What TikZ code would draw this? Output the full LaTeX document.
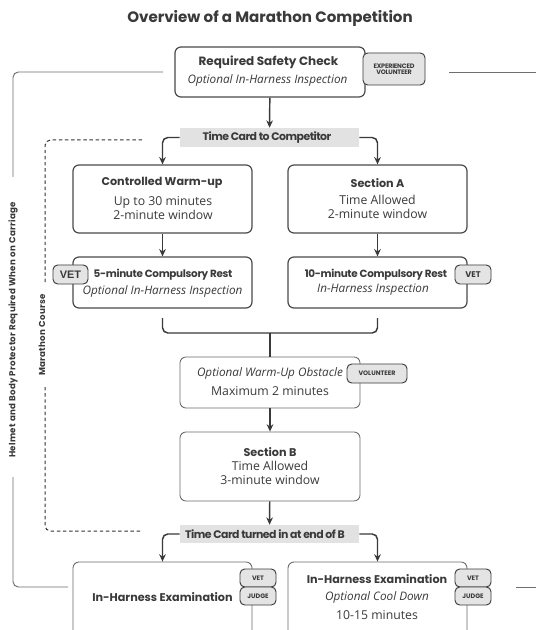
\documentclass[tikz,border=0pt]{standalone}
\usepackage{fontspec}
\setmainfont{Open Sans}
\newfontfamily\hd{Poppins}
\newfontfamily\tight{Poppins}[LetterSpace=-5.0]
\newfontfamily\sidef{Poppins}[LetterSpace=3.0]
\newfontfamily\condf{Poppins}[LetterSpace=-3.0]
\newfontfamily\arl{Liberation Sans}
\usetikzlibrary{arrows.meta}
\definecolor{ink}{HTML}{3A3A3A}
\definecolor{boxc}{HTML}{4A4A4A}
\definecolor{lboxc}{HTML}{6A6A6A}
\definecolor{bandc}{HTML}{E2E2E2}
\definecolor{badgec}{HTML}{E4E4E4}
\definecolor{sidec}{HTML}{6E6E6E}
\def\pxu{0.75pt}
\tikzset{
  mainbox/.style={draw=boxc, line width=0.9pt, rounded corners=4.5pt, inner sep=0pt, fill=white},
  lightbox/.style={draw=lboxc, line width=0.65pt, rounded corners=4.5pt, inner sep=0pt, fill=white},
  badge/.style={draw=ink, line width=0.7pt, fill=badgec, rounded corners=3.5pt, inner sep=0pt, text=ink, align=center},
  bandbox/.style={fill=bandc, inner sep=0pt, text=ink, font=\tight\bfseries\fontsize{8.2}{9}\selectfont},
  arr/.style={draw=ink, line width=1.1pt, -{Stealth[length=5.5pt,width=5pt]}, rounded corners=4pt},
  conn/.style={draw=ink, line width=1.1pt, rounded corners=4pt},
  sideln/.style={draw=sidec, line width=0.7pt, rounded corners=4pt},
  dashln/.style={draw=ink!90!black, line width=0.75pt, dash pattern=on 2.6pt off 2pt, rounded corners=4pt},
  head/.style={text=ink, inner sep=0pt, font=\hd\bfseries\fontsize{8.4}{10}\selectfont},
  headsm/.style={text=ink, inner sep=0pt, font=\condf\bfseries\fontsize{7.8}{10}\selectfont},
  body/.style={text=ink, inner sep=0pt, font=\fontsize{9.2}{10}\selectfont},
  ital/.style={text=ink, inner sep=0pt, font=\itshape\fontsize{8.8}{10}\selectfont},
  sidetext/.style={text=ink, inner sep=0pt, rotate=90, font=\sidef\bfseries\fontsize{6.5}{7}\selectfont},
  smallbadge/.style={font=\hd\bfseries\fontsize{4.8}{5.4}\selectfont},
}
\begin{document}
\begin{tikzpicture}[x=0.75pt,y=-0.75pt]
\clip (0,0) rectangle (536,630);
\fill[white] (0,0) rectangle (536,630);

% title
\node[text=ink, inner sep=0pt, font=\hd\bfseries\fontsize{11.3}{13}\selectfont] (title) at (270,18) {Overview of a Marathon Competition};

% side brackets
\coordinate (hl1) at (163,72);
\coordinate (hl2) at (13,177);
\coordinate (hl3) at (13,477);
\coordinate (hl4) at (68,587);
\coordinate (hr1) at (449,72);
\coordinate (hr2) at (536,72);
\coordinate (hr3) at (516,587);
\coordinate (hr4) at (536,587);
\draw[sideln] (hl1) -| (hl2);
\draw[sideln] (hl3) |- (hl4);
\draw[sideln] (hr1) -- (hr2);
\draw[sideln] (hr3) -- (hr4);
\node[sidetext] (helmet) at (13,330) {Helmet and Body Protector Required When on Carriage};

\coordinate (dl1) at (142,140);
\coordinate (dl2) at (45,283);
\coordinate (dl3) at (45,387);
\coordinate (dl4) at (142,531);
\draw[dashln] (dl1) -| (dl2);
\draw[dashln] (dl3) |- (dl4);
\node[sidetext] (course) at (42,335) {Marathon Course};

% boxes
\node[mainbox, minimum width=190*\pxu, minimum height=50*\pxu] (safety) at (270,72) {};
\node[mainbox, minimum width=179*\pxu, minimum height=68*\pxu] (warm) at (162.5,199) {};
\node[mainbox, minimum width=179*\pxu, minimum height=68*\pxu] (secA) at (377.5,199) {};
\node[mainbox, minimum width=179*\pxu, minimum height=51*\pxu] (rest5) at (162.5,282.5) {};
\node[mainbox, minimum width=179*\pxu, minimum height=51*\pxu] (rest10) at (377.5,282.5) {};
\node[lightbox, minimum width=180*\pxu, minimum height=51*\pxu] (obst) at (270,382.5) {};
\node[lightbox, minimum width=180*\pxu, minimum height=69*\pxu] (secB) at (270,466.5) {};
\node[lightbox, minimum width=179*\pxu, minimum height=100*\pxu] (exam1) at (162.5,612) {};
\node[lightbox, minimum width=179*\pxu, minimum height=100*\pxu] (exam2) at (377.5,612) {};

% bands
\node[bandbox, minimum width=179*\pxu, minimum height=19*\pxu] (band1) at (269.5,137.5) {};
\node[bandbox] (band1t) at (267,137.5) {Time Card to Competitor};
\node[bandbox, minimum width=179*\pxu, minimum height=18*\pxu] (band2) at (269.5,534) {};
\node[bandbox] (band2t) at (265,534) {Time Card turned in at end of B};

% texts
\node[head, font=\hd\bfseries\fontsize{9}{10}\selectfont] (safetyh) at (268.5,62) {Required Safety Check};
\node[ital] (safetyi) at (267.5,80) {Optional In-Harness Inspection};
\node[head] (warmh) at (162,183) {Controlled Warm-up};
\node[body] (warm1) at (163,202) {Up to 30 minutes};
\node[body] (warm2) at (163,215) {2-minute window};
\node[head] (secAh) at (377.5,183) {Section A};
\node[body] (secA1) at (377.5,200) {Time Allowed};
\node[body] (secA2) at (377.5,214) {2-minute window};
\node[headsm] (rest5h) at (163,275) {5-minute Compulsory Rest};
\node[ital] (rest5i) at (162.5,291) {Optional In-Harness Inspection};
\node[headsm] (rest10h) at (376,275) {10-minute Compulsory Rest};
\node[ital] (rest10i) at (373,290) {In-Harness Inspection};
\node[ital] (obsti) at (270,373) {Optional Warm-Up Obstacle};
\node[body] (obstb) at (270,391) {Maximum 2 minutes};
\node[head] (secBh) at (270,452) {Section B};
\node[body] (secB1) at (270,466) {Time Allowed};
\node[body] (secB2) at (270,480) {3-minute window};
\node[head] (exam1h) at (162.5,597) {In-Harness Examination};
\node[head] (exam2h) at (377,579) {In-Harness Examination};
\node[ital] (exam2i) at (377,597) {Optional Cool Down};
\node[body] (exam2b) at (377,615) {10-15 minutes};

% badges
\node[badge, font=\condf\bfseries\fontsize{4.8}{5.2}\selectfont, minimum width=62*\pxu, minimum height=32*\pxu] (expvol) at (394,69) {EXPERIENCED\\[-0.5pt]VOLUNTEER};
\node[badge, font=\arl\bfseries\fontsize{8.2}{9}\selectfont, minimum width=35*\pxu, minimum height=19*\pxu] (vet1) at (70.5,274.5) {VET};
\node[badge, font=\hd\bfseries\fontsize{6.2}{7}\selectfont, minimum width=36*\pxu, minimum height=19*\pxu] (vet2) at (473,274.5) {VET};
\node[badge, smallbadge, minimum width=60*\pxu, minimum height=19*\pxu] (vol) at (377,373.5) {VOLUNTEER};
\node[badge, smallbadge, minimum width=36*\pxu, minimum height=18*\pxu] (vet3) at (258,578) {VET};
\node[badge, smallbadge, minimum width=36*\pxu, minimum height=18*\pxu] (judge3) at (258,596) {JUDGE};
\node[badge, smallbadge, minimum width=36*\pxu, minimum height=18*\pxu] (vet4) at (473,578) {VET};
\node[badge, smallbadge, minimum width=36*\pxu, minimum height=18*\pxu] (judge4) at (473,596) {JUDGE};

% connectors
\draw[arr] (safety) -- (band1);
\draw[arr] (band1.west) -| (warm.north);
\draw[arr] (band1.east) -| (secA.north);
\draw[arr] (warm) -- (rest5);
\draw[arr] (secA) -- (rest10);
\coordinate (mL) at (162.5,318);
\coordinate (mR) at (377.5,318);
\coordinate (mC) at (270,333);
\draw[conn] (mL) |- (mC) -| (mR);
\draw[conn] (mC) -- (obst.north);
\draw[arr] (obst) -- (secB);
\draw[arr] (secB) -- (band2);
\draw[arr] (band2.west) -| (exam1.north);
\draw[arr] (band2.east) -| (exam2.north);
\end{tikzpicture}
\end{document}
